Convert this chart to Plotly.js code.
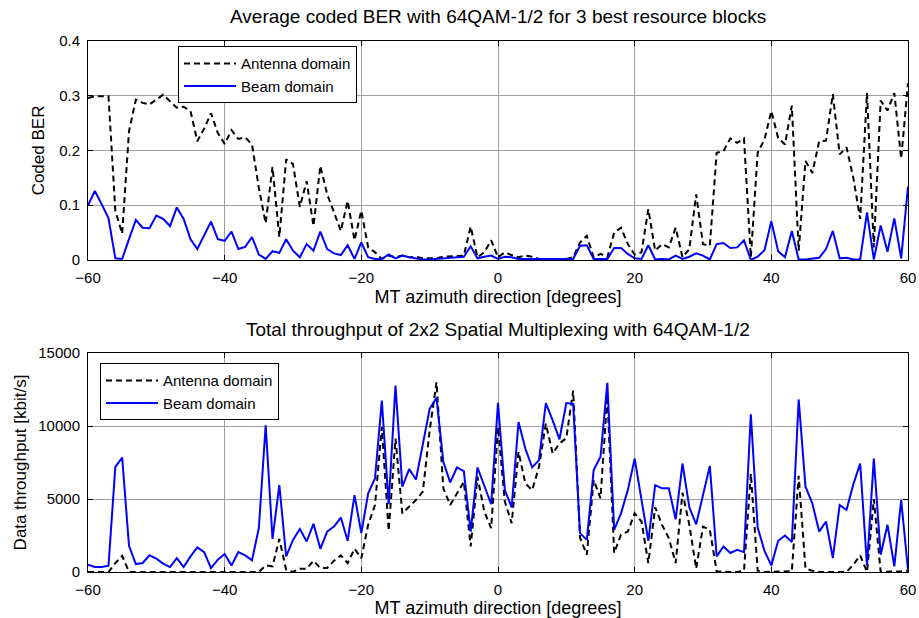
<!DOCTYPE html>
<html>
<head>
<meta charset="utf-8">
<script src="https://cdn.plot.ly/plotly-3.0.1.min.js"></script>
<style>html,body{margin:0;padding:0;background:#fff;}#chart{width:919px;height:618px;}</style>
</head>
<body>
<div id="chart"></div>
<script>
// MT azimuth direction [degrees]
var azimuth = [
 -60,-59,-58,-57,-56,-55,-54,-53,-52,-51,
 -50,-49,-48,-47,-46,-45,-44,-43,-42,-41,
 -40,-39,-38,-37,-36,-35,-34,-33,-32,-31,
 -30,-29,-28,-27,-26,-25,-24,-23,-22,-21,
 -20,-19,-18,-17,-16,-15,-14,-13,-12,-11,
 -10,-9,-8,-7,-6,-5,-4,-3,-2,-1,
 0,1,2,3,4,5,6,7,8,9,
 10,11,12,13,14,15,16,17,18,19,
 20,21,22,23,24,25,26,27,28,29,
 30,31,32,33,34,35,36,37,38,39,
 40,41,42,43,44,45,46,47,48,49,
 50,51,52,53,54,55,56,57,58,59,
 60];

// Coded BER, antenna domain
var berAntenna = [
 0.296,0.299,0.299,0.299,0.090,0.048,0.235,0.293,0.287,0.284,
 0.293,0.302,0.290,0.278,0.280,0.272,0.217,0.240,0.268,0.232,
 0.212,0.237,0.221,0.224,0.211,0.132,0.067,0.170,0.042,0.184,
 0.175,0.097,0.144,0.062,0.172,0.120,0.087,0.053,0.108,0.036,
 0.090,0.023,0.014,0.002,0.008,0.005,0.008,0.005,0.006,0.003,
 0.003,0.003,0.006,0.007,0.007,0.008,0.061,0.005,0.014,0.036,
 0.005,0.014,0.009,0.005,0.008,0.006,0.002,0.002,0.002,0.002,
 0.002,0.005,0.032,0.044,0.005,0.011,0.005,0.050,0.059,0.029,
 0.010,0.014,0.093,0.017,0.029,0.023,0.059,0.005,0.020,0.120,
 0.029,0.026,0.196,0.199,0.222,0.214,0.222,0.005,0.196,0.220,
 0.272,0.223,0.211,0.282,0.017,0.181,0.159,0.217,0.218,0.303,
 0.193,0.206,0.150,0.075,0.305,0.023,0.291,0.273,0.305,0.185,
 0.323];

// Coded BER, beam domain
var berBeam = [
 0.100,0.126,0.102,0.076,0.003,0.002,0.038,0.073,0.059,0.058,
 0.081,0.075,0.062,0.096,0.075,0.038,0.020,0.044,0.070,0.038,
 0.035,0.052,0.020,0.024,0.042,0.010,0.002,0.016,0.013,0.038,
 0.017,0.005,0.029,0.017,0.052,0.020,0.012,0.009,0.027,0.002,
 0.032,0.005,0.002,0.002,0.010,0.003,0.008,0.005,0.003,0.001,
 0.001,0.002,0.003,0.003,0.004,0.006,0.025,0.003,0.006,0.008,
 0.002,0.006,0.005,0.002,0.002,0.002,0.001,0.001,0.002,0.001,
 0.001,0.002,0.026,0.027,0.002,0.002,0.002,0.022,0.022,0.011,
 0.003,0.002,0.027,0.001,0.002,0.001,0.008,0.002,0.006,0.012,
 0.008,0.001,0.029,0.031,0.022,0.023,0.036,0.000,0.006,0.018,
 0.071,0.016,0.005,0.053,0.001,0.001,0.003,0.004,0.020,0.053,
 0.003,0.004,0.001,0.001,0.087,0.001,0.063,0.015,0.076,0.003,
 0.134];

// Data throughput [kbit/s], antenna domain
var tputAntenna = [
 0,0,0,0,610,1110,0,0,0,0,
 0,0,0,0,0,0,0,0,0,0,
 50,0,0,0,50,0,450,390,2270,160,
 0,230,230,770,270,270,770,1140,610,1590,
 950,3230,4590,9930,2820,9140,4020,4480,4930,5500,
 9700,13000,5730,4590,5390,6180,1750,6520,4140,3000,
 9930,4820,3340,8230,6070,5610,7200,10160,8120,8800,
 9180,12430,2360,1180,6300,5050,12090,1300,2550,2770,
 4020,3460,610,4430,3230,2320,610,5430,3230,230,
 3110,2890,50,0,0,0,90,6750,90,0,
 0,0,0,50,6590,230,90,0,0,0,
 0,0,500,1140,0,5000,0,0,0,50,
 90];

// Data throughput [kbit/s], beam domain
var tputBeam = [
 500,340,340,430,7200,7840,1800,545,614,1140,
 910,570,340,955,340,1070,1680,1360,270,840,
 1230,450,1360,1140,800,3000,10050,2270,5950,1070,
 2200,2950,2090,3300,1590,2770,3110,3730,2140,5270,
 2660,5390,6410,11750,4640,12770,5840,7050,6340,8800,
 11180,11930,7550,6140,7160,6910,2770,7160,5840,4640,
 11590,5610,4430,10270,8460,7160,7660,11570,10390,9090,
 11570,11520,2660,2200,6980,7890,12960,2890,4020,5610,
 7770,5050,2140,5950,5730,5730,3610,7430,4430,3270,
 5230,7270,1070,1750,1300,1520,1360,10800,3050,1450,
 450,2140,2500,2050,11820,5840,4700,2770,3460,955,
 4590,4250,6000,7430,450,7770,1180,3230,390,4930,
 160];

var seriesNames = ['Antenna domain', 'Beam domain'];
var xTicks = [-60, -40, -20, 0, 20, 40, 60];
var berTicks = [0, 0.1, 0.2, 0.3, 0.4];
var tputTicks = [0, 5000, 10000, 15000];

var FONT = 'Liberation Sans, Arial, Helvetica, sans-serif';
var dashStyle = '6px,4px';

var traces = [
  {x: azimuth, y: berAntenna, name: seriesNames[0], type: 'scatter', mode: 'lines',
   line: {color: '#000000', width: 2, dash: dashStyle}, xaxis: 'x', yaxis: 'y', legend: 'legend'},
  {x: azimuth, y: berBeam, name: seriesNames[1], type: 'scatter', mode: 'lines',
   line: {color: '#0000ff', width: 2}, xaxis: 'x', yaxis: 'y', legend: 'legend'},
  {x: azimuth, y: tputAntenna, name: seriesNames[0], type: 'scatter', mode: 'lines',
   line: {color: '#000000', width: 2, dash: dashStyle}, xaxis: 'x2', yaxis: 'y2', legend: 'legend2'},
  {x: azimuth, y: tputBeam, name: seriesNames[1], type: 'scatter', mode: 'lines',
   line: {color: '#0000ff', width: 2}, xaxis: 'x2', yaxis: 'y2', legend: 'legend2'}
];

function axisBase() {
  return {
    showline: true, mirror: 'ticks', linecolor: '#000', linewidth: 1,
    ticks: 'inside', ticklen: 5, tickcolor: '#000', tickwidth: 1,
    showgrid: true, gridcolor: '#a0a0a0', gridwidth: 1,
    zeroline: false, tickfont: {family: FONT, size: 15, color: '#000'},
    fixedrange: true
  };
}

var xTitleFont = {family: FONT, size: 18, color: '#000'};
var yTitleFont = {family: FONT, size: 17, color: '#000'};

var xa = axisBase();
xa.range = [-60, 60]; xa.tickmode = 'array'; xa.tickvals = xTicks; xa.domain = [0, 1];
xa.anchor = 'y'; xa.ticklabelstandoff = 4;
xa.title = {text: 'MT azimuth direction [degrees]', font: xTitleFont, standoff: 5};

var ya = axisBase();
ya.range = [0, 0.4]; ya.tickmode = 'array'; ya.tickvals = berTicks; ya.ticktext = ['0', '0.1', '0.2', '0.3', '0.4'];
ya.domain = [0.5876, 1]; ya.anchor = 'x'; ya.ticklabelstandoff = 4;
ya.title = {text: 'Coded BER', font: yTitleFont, standoff: 10};

var xa2 = axisBase();
xa2.range = [-60, 60]; xa2.tickmode = 'array'; xa2.tickvals = xTicks; xa2.domain = [0, 1];
xa2.anchor = 'y2'; xa2.ticklabelstandoff = 4;
xa2.title = {text: 'MT azimuth direction [degrees]', font: xTitleFont, standoff: 2};

var ya2 = axisBase();
ya2.range = [0, 15000]; ya2.tickmode = 'array'; ya2.tickvals = tputTicks; ya2.ticktext = ['0', '5000', '10000', '15000'];
ya2.domain = [0, 0.4124]; ya2.anchor = 'x2'; ya2.ticklabelstandoff = 4;
ya2.title = {text: 'Data throughput [kbit/s]', font: yTitleFont, standoff: 7};

var legendStyle = {
  bgcolor: '#ffffff', bordercolor: '#000', borderwidth: 1,
  font: {family: FONT, size: 15, color: '#000'},
  xanchor: 'left', yanchor: 'top', tracegroupgap: 0, itemwidth: 52
};

var layout = {
  width: 919, height: 618,
  margin: {l: 88, r: 11, t: 41, b: 46},
  paper_bgcolor: '#ffffff', plot_bgcolor: '#ffffff',
  font: {family: FONT, size: 15, color: '#000'},
  showlegend: true,
  xaxis: xa, yaxis: ya, xaxis2: xa2, yaxis2: ya2,
  legend: Object.assign({x: 0.1098, y: 0.99}, legendStyle),
  legend2: Object.assign({x: 0.0146, y: 0.393}, legendStyle),
  annotations: [
    {text: 'Average coded BER with 64QAM-1/2 for 3 best resource blocks', xref: 'paper', yref: 'paper',
     x: 0.5, y: 1, xanchor: 'center', yanchor: 'bottom', yshift: 12, showarrow: false,
     font: {family: FONT, size: 19, color: '#000'}},
    {text: 'Total throughput of 2x2 Spatial Multiplexing with 64QAM-1/2', xref: 'paper', yref: 'paper',
     x: 0.5, y: 0.4124, xanchor: 'center', yanchor: 'bottom', yshift: 11, showarrow: false,
     font: {family: FONT, size: 19, color: '#000'}}
  ]
};

Plotly.newPlot('chart', traces, layout, {displayModeBar: false, staticPlot: true});
</script>
</body>
</html>
